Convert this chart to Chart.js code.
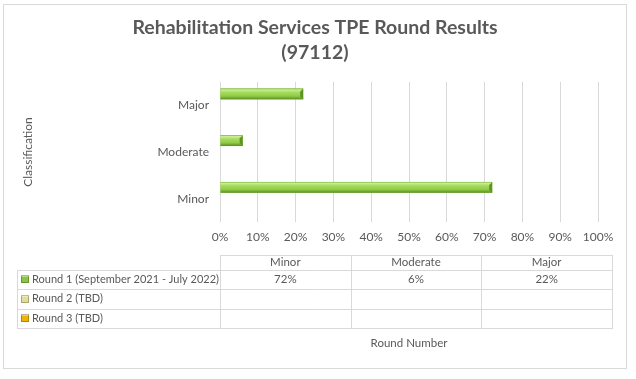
<!DOCTYPE html>
<html>
<head>
<meta charset="utf-8">
<script src="https://cdn.jsdelivr.net/npm/chart.js@4/dist/chart.umd.min.js"></script>
<style>
  html, body { margin: 0; padding: 0; background: #ffffff; }
  #wrap { position: relative; width: 636px; height: 379px; }
</style>
</head>
<body>
<div id="wrap"><canvas id="c" width="636" height="379"></canvas></div>
<script>
// ---- data ----
const titleLines = ['Rehabilitation Services TPE Round Results', '(97112)'];
const categories = ['Minor', 'Moderate', 'Major'];
const seriesNames = ['Round 1 (September 2021 - July 2022)', 'Round 2 (TBD)', 'Round 3 (TBD)'];
const round1 = [72, 6, 22];
const round2 = [null, null, null];
const round3 = [null, null, null];
const seriesColors = ['#8cc640', '#e2de98', '#f0b400'];
const yAxisTitle = 'Classification';
const xAxisTitle = 'Round Number';

const FONT = 'Lato, "Open Sans", sans-serif';
const TEXT = '#595959';

const seriesValues = [round1, round2, round3];

function shade(ctx, x0, x1, yc, h) {
  const top = yc - h / 2, bot = yc + h / 2;
  const g = ctx.createLinearGradient(0, top, 0, bot);
  g.addColorStop(0, '#7ab534');
  g.addColorStop(0.12, '#cdee98');
  g.addColorStop(0.35, '#a6dc5e');
  g.addColorStop(0.7, '#8fcb45');
  g.addColorStop(1, '#5a8c22');
  ctx.fillStyle = g;
  ctx.fillRect(x0, top, x1 - x0, h);
  const b = Math.min(3, (x1 - x0) / 3);
  ctx.fillStyle = '#5f9324';
  ctx.beginPath();
  ctx.moveTo(x1 - b, top + b);
  ctx.lineTo(x1, top);
  ctx.lineTo(x1, bot);
  ctx.lineTo(x1 - b, bot - b);
  ctx.closePath();
  ctx.fill();
}

const decor = {
  id: 'decor',
  beforeDraw(chart) {
    const ctx = chart.ctx;
    ctx.save();
    ctx.fillStyle = '#ffffff';
    ctx.fillRect(0, 0, chart.width, chart.height);
    ctx.strokeStyle = '#d9d9d9';
    ctx.lineWidth = 1;
    ctx.strokeRect(3.5, 4.5, 623, 364);
    // title
    ctx.fillStyle = TEXT;
    ctx.font = 'bold 19.5px ' + FONT;
    ctx.textAlign = 'center';
    ctx.textBaseline = 'middle';
    titleLines.forEach((t, i) => ctx.fillText(t, 315, 27.5 + i * 25));
    ctx.restore();
  },
  afterDatasetsDraw(chart) {
    const ctx = chart.ctx;
    ctx.save();
    chart.data.datasets.forEach((ds, di) => {
      const meta = chart.getDatasetMeta(di);
      meta.data.forEach((el, i) => {
        if (ds.data[i] == null) return;
        const p = el.getProps(['x', 'y', 'base', 'height'], true);
        shade(ctx, Math.min(p.base, p.x), Math.max(p.base, p.x), p.y, p.height);
      });
    });
    ctx.restore();
  },
  afterDraw(chart) {
    const ctx = chart.ctx;
    const area = chart.chartArea;
    const left = 17, mid = area.left, right = area.right + 14;
    const rows = [255, 269.5, 289, 308.5, 327.5];
    const colW = (right - mid) / categories.length;
    ctx.save();
    ctx.strokeStyle = '#d9d9d9';
    ctx.lineWidth = 1;
    ctx.beginPath();
    ctx.moveTo(mid, rows[0] + 0.5); ctx.lineTo(right, rows[0] + 0.5);
    for (let r = 1; r < rows.length; r++) {
      ctx.moveTo(left, Math.round(rows[r]) + 0.5); ctx.lineTo(right, Math.round(rows[r]) + 0.5);
    }
    ctx.moveTo(left + 0.5, Math.round(rows[1])); ctx.lineTo(left + 0.5, Math.round(rows[4]) + 1);
    for (let c = 0; c <= categories.length; c++) {
      const x = Math.round(mid + c * colW) + 0.5;
      ctx.moveTo(x, rows[0]); ctx.lineTo(x, Math.round(rows[4]) + 1);
    }
    ctx.stroke();

    ctx.fillStyle = TEXT;
    ctx.font = '11.5px ' + FONT;
    ctx.textBaseline = 'middle';
    ctx.textAlign = 'center';
    categories.forEach((cat, c) => {
      ctx.fillText(cat, mid + (c + 0.5) * colW, (rows[0] + rows[1]) / 2);
    });
    seriesNames.forEach((name, s) => {
      const yc = (rows[s + 1] + rows[s + 2]) / 2;
      const kx = 21, ky = Math.round(yc) - 4;
      const g = ctx.createLinearGradient(0, ky, 0, ky + 8);
      g.addColorStop(0, '#ffffff');
      g.addColorStop(0.3, seriesColors[s]);
      g.addColorStop(1, seriesColors[s]);
      ctx.fillStyle = g;
      ctx.fillRect(kx, ky, 8, 8);
      ctx.strokeStyle = 'rgba(0,0,0,0.25)';
      ctx.strokeRect(kx + 0.5, ky + 0.5, 7, 7);
      ctx.fillStyle = TEXT;
      ctx.textAlign = 'left';
      ctx.font = '11px ' + FONT;
      ctx.fillText(name, 32, yc);
      ctx.font = '11.5px ' + FONT;
      ctx.textAlign = 'center';
      seriesValues[s].forEach((v, c) => {
        if (v == null) return;
        ctx.fillText(v + '%', mid + (c + 0.5) * colW, yc);
      });
    });
    ctx.font = '11.5px ' + FONT;
    ctx.fillText(xAxisTitle, (area.left + area.right) / 2, 343);
    ctx.restore();
  }
};

new Chart(document.getElementById('c'), {
  type: 'bar',
  data: {
    labels: categories,
    datasets: seriesNames.map((n, s) => ({
      label: n,
      data: seriesValues[s],
      backgroundColor: seriesColors[s],
      borderWidth: 0,
      categoryPercentage: 0.73,
      barPercentage: 0.95
    }))
  },
  options: {
    indexAxis: 'y',
    responsive: false,
    animation: false,
    layout: { padding: { left: 4, right: 38, top: 82, bottom: 133 } },
    plugins: {
      legend: { display: false },
      tooltip: { enabled: false },
      title: { display: false }
    },
    scales: {
      x: {
        min: 0, max: 100,
        ticks: { stepSize: 10, color: TEXT, padding: 8, font: { family: FONT, size: 12 }, callback: v => v + '%' },
        grid: { color: '#d9d9d9', drawTicks: false },
        border: { display: false },
        afterFit: s => { s.height = 24; }
      },
      y: {
        reverse: true,
        ticks: { color: TEXT, padding: 11, font: { family: FONT, size: 12 } },
        grid: { display: false, drawTicks: false },
        border: { display: false },
        title: { display: true, text: yAxisTitle, color: TEXT, font: { family: FONT, size: 12 }, padding: { top: 17, bottom: 0 } },
        afterFit: s => { s.width = 216; }
      }
    }
  },
  plugins: [decor]
});
</script>
</body>
</html>
